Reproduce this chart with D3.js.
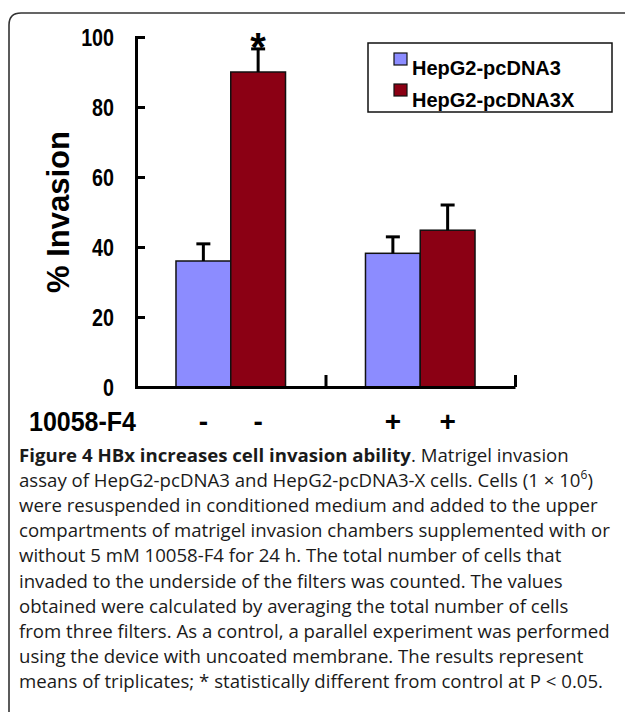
<!DOCTYPE html>
<html>
<head>
<meta charset="utf-8">
<script src="https://cdn.jsdelivr.net/npm/d3@7"></script>
<style>
  html, body { margin: 0; padding: 0; background: #fff; }
  svg { display: block; }
</style>
</head>
<body>
<svg id="chart" width="625" height="712"></svg>
<script>
// ---------- data ----------
const groups = ["-", "+"];                    // 10058-F4 treatment
const seriesNames = ["HepG2-pcDNA3", "HepG2-pcDNA3X"];
const pcDNA3 = [36, 38.2];
const pcDNA3X = [90, 44.8];
const pcDNA3Err = [4.9, 4.7];
const pcDNA3XErr = [6.6, 7.2];
const pcDNA3XSig = ["*", ""];
const pcDNA3Sig = ["", ""];
const yTicks = [0, 20, 40, 60, 80, 100];
const yLabel = "% Invasion";
const xLabel = "10058-F4";
const captionBold = "Figure 4 HBx increases cell invasion ability";
const captionLines = [
  [["b", captionBold], ["n", ". Matrigel invasion"]],
  [["n", "assay of HepG2-pcDNA3 and HepG2-pcDNA3-X cells. Cells (1 \u00D7 10"], ["s", "6"], ["n", ")"]],
  [["n", "were resuspended in conditioned medium and added to the upper"]],
  [["n", "compartments of matrigel invasion chambers supplemented with or"]],
  [["n", "without 5 mM 10058-F4 for 24 h. The total number of cells that"]],
  [["n", "invaded to the underside of the filters was counted. The values"]],
  [["n", "obtained were calculated by averaging the total number of cells"]],
  [["n", "from three filters. As a control, a parallel experiment was performed"]],
  [["n", "using the device with uncoated membrane. The results represent"]],
  [["n", "means of triplicates; * statistically different from control at P < 0.05."]]
];

// ---------- build ----------
const colors = ["#8C8CFF", "#8B0014"];
const rows = groups.map((g, i) => ({
  group: g,
  values: [
    {s: seriesNames[0], v: pcDNA3[i], e: pcDNA3Err[i], sig: pcDNA3Sig[i]},
    {s: seriesNames[1], v: pcDNA3X[i], e: pcDNA3XErr[i], sig: pcDNA3XSig[i]}
  ]
}));

const svg = d3.select("#chart");
const boldFont = "'Liberation Sans', Arial, sans-serif";

function condense(sel, factor) {
  sel.each(function () {
    const w = this.getComputedTextLength();
    this.setAttribute("textLength", w * factor);
    this.setAttribute("lengthAdjust", "spacingAndGlyphs");
  });
}

// frame
const fx = 9, fy = 13, fr = 12;
svg.append("path")
  .attr("d", `M${fx},720 V${fy + fr} Q${fx},${fy} ${fx + fr},${fy} H640`)
  .attr("fill", "none").attr("stroke", "#333").attr("stroke-width", 1.6);

const plotL = 136, plotR = 515, plotT = 37, plotB = 387;

const y = d3.scaleLinear().domain([0, 100]).range([plotB, plotT]);
const x0 = d3.scaleBand().domain(groups).range([plotL, plotR]).padding(0);
const x1 = d3.scaleBand().domain(seriesNames).range([0, x0.bandwidth()])
  .paddingInner(0).paddingOuter(0.73);

// bars
const g = svg.append("g");
const grp = g.selectAll("g.grp").data(rows).join("g")
  .attr("transform", d => `translate(${x0(d.group)},0)`);

grp.selectAll("rect").data(d => d.values).join("rect")
  .attr("x", d => x1(d.s))
  .attr("y", d => y(d.v))
  .attr("width", x1.bandwidth())
  .attr("height", d => y(0) - y(d.v))
  .attr("fill", (d, i) => colors[i])
  .attr("stroke", "#111").attr("stroke-width", 1.5);

// error bars
grp.selectAll("line.err").data(d => d.values).join("line")
  .attr("class", "err")
  .attr("x1", d => x1(d.s) + x1.bandwidth() / 2)
  .attr("x2", d => x1(d.s) + x1.bandwidth() / 2)
  .attr("y1", d => y(d.v))
  .attr("y2", d => y(d.v + d.e))
  .attr("stroke", "#000").attr("stroke-width", 3);
grp.selectAll("line.cap").data(d => d.values).join("line")
  .attr("class", "cap")
  .attr("x1", d => x1(d.s) + x1.bandwidth() / 2 - 7)
  .attr("x2", d => x1(d.s) + x1.bandwidth() / 2 + 7)
  .attr("y1", d => y(d.v + d.e))
  .attr("y2", d => y(d.v + d.e))
  .attr("stroke", "#000").attr("stroke-width", 3);
grp.selectAll("text.sig").data(d => d.values.filter(v => v.sig)).join("text")
  .attr("class", "sig")
  .attr("x", d => x1(d.s) + x1.bandwidth() / 2)
  .attr("y", d => y(d.v + d.e) + 12)
  .attr("text-anchor", "middle")
  .attr("font-family", boldFont).attr("font-weight", "bold").attr("font-size", 40)
  .text(d => d.sig);

// y axis
const yAxis = svg.append("g").attr("transform", `translate(${plotL},0)`)
  .call(d3.axisLeft(y).tickValues(yTicks).tickFormat(d3.format("d"))
    .tickSizeInner(-9).tickSizeOuter(-9).tickPadding(22));
yAxis.selectAll("path, line").attr("stroke", "#000").attr("stroke-width", 3);
yAxis.selectAll("text")
  .attr("font-family", boldFont).attr("font-weight", "bold").attr("font-size", 24)
  .attr("fill", "#000").attr("dy", "0.36em");
condense(yAxis.selectAll("text"), 0.82);

// x axis (baseline with ticks at group boundaries)
const xb = d3.scaleLinear().domain([0, groups.length]).range([plotL, plotR]);
const xAxis = svg.append("g").attr("transform", `translate(0,${plotB})`)
  .call(d3.axisBottom(xb).tickValues(d3.range(1, groups.length + 1))
    .tickFormat("").tickSizeInner(-12).tickSizeOuter(0));
xAxis.selectAll("path, line").attr("stroke", "#000").attr("stroke-width", 3);

// treatment row
const treat = svg.append("g")
  .attr("font-family", boldFont).attr("font-weight", "bold").attr("fill", "#000");
const xl = treat.append("text").attr("x", 29).attr("y", 431)
  .attr("font-size", 28).text(xLabel);
xl.attr("textLength", 107).attr("lengthAdjust", "spacingAndGlyphs");
rows.forEach(r => {
  r.values.forEach(v => {
    treat.append("text")
      .attr("x", x0(r.group) + x1(v.s) + x1.bandwidth() / 2)
      .attr("y", 431).attr("text-anchor", "middle")
      .attr("font-size", 28).text(r.group);
  });
});

// y label
svg.append("text")
  .attr("transform", "translate(69,212) rotate(-90)")
  .attr("text-anchor", "middle")
  .attr("font-family", boldFont).attr("font-weight", "bold").attr("font-size", 31)
  .text(yLabel);

// legend
const lg = svg.append("g");
lg.append("rect").attr("x", 368).attr("y", 43).attr("width", 244).attr("height", 69)
  .attr("fill", "none").attr("stroke", "#111").attr("stroke-width", 1.5);
seriesNames.forEach((s, i) => {
  lg.append("rect").attr("x", 394).attr("y", 53 + i * 31).attr("width", 13).attr("height", 12)
    .attr("fill", colors[i]).attr("stroke", "#111").attr("stroke-width", 1.2);
  lg.append("text").attr("x", 412).attr("y", 75 + i * 32)
    .attr("font-family", boldFont).attr("font-weight", "bold").attr("font-size", 20)
    .text(s);
});

// caption
const cap = svg.append("g").attr("font-family", "'Open Sans', sans-serif").attr("fill", "#1a1a1a");
let fs = 16;
const capTexts = captionLines.map((parts, i) => {
  const t = cap.append("text").attr("x", 19).attr("y", 462 + i * 25.1).attr("font-size", fs);
  parts.forEach(([kind, str]) => {
    const ts = t.append("tspan").text(str);
    if (kind === "b") ts.attr("font-weight", "bold");
    if (kind === "s") ts.attr("font-size", "0.65em").attr("baseline-shift", "super");
  });
  return t;
});
const maxW = d3.max(capTexts, t => t.node().getComputedTextLength());
fs = fs * 591 / maxW;
capTexts.forEach(t => t.attr("font-size", fs));
</script>
</body>
</html>
